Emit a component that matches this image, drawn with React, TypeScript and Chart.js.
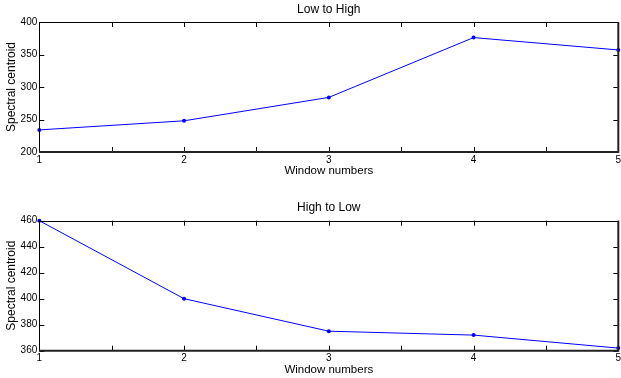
import React, { useEffect, useRef } from "react";
import { Chart, registerables } from "chart.js";

Chart.register(...registerables);

const windows = [1, 2, 3, 4, 5];
const lowToHigh = [234, 248, 284, 376, 357];
const highToLow = [460, 400, 375, 372, 362];
const xTickLabels = ["1", "2", "3", "4", "5"];
const topYTicks = [200, 250, 300, 350, 400];
const bottomYTicks = [360, 380, 400, 420, 440, 460];

const FONT = "'Liberation Sans', Arial, Helvetica, sans-serif";

const framePlugin = {
  id: "matlabFrame",
  afterDraw(chart: any) {
    const { ctx, chartArea: a, scales } = chart;
    const xs = scales.x;
    const ys = scales.y;
    const len = 5;
    ctx.save();
    ctx.strokeStyle = "#000";
    ctx.lineWidth = 1;
    ctx.beginPath();
    xs.ticks.forEach((t: any) => {
      const px = Math.round(xs.getPixelForValue(t.value)) + 0.5;
      ctx.moveTo(px, a.bottom);
      ctx.lineTo(px, a.bottom - len);
      ctx.moveTo(px, a.top);
      ctx.lineTo(px, a.top + len);
    });
    ys.ticks.forEach((t: any) => {
      const py = Math.round(ys.getPixelForValue(t.value)) + 0.5;
      ctx.moveTo(a.left, py);
      ctx.lineTo(a.left + len, py);
      ctx.moveTo(a.right, py);
      ctx.lineTo(a.right - len, py);
    });
    ctx.stroke();
    ctx.lineWidth = 1;
    ctx.beginPath();
    ctx.moveTo(Math.round(a.left) + 0.5, a.bottom);
    ctx.lineTo(Math.round(a.left) + 0.5, Math.round(a.top) + 0.5);
    ctx.lineTo(a.right, Math.round(a.top) + 0.5);
    ctx.stroke();
    ctx.lineWidth = 2;
    ctx.strokeStyle = "#222";
    ctx.beginPath();
    ctx.moveTo(a.left, a.bottom);
    ctx.lineTo(a.right, a.bottom);
    ctx.lineTo(a.right, a.top);
    ctx.stroke();
    ctx.restore();
  },
};

type Cfg = {
  title: string;
  values: number[];
  yTicks: number[];
  height: number;
  topH: number;
  bottomH: number;
  titlePadTop: number;
  xTitlePadBottom: number;
};

function Panel({ cfg }: { cfg: Cfg }) {
  const ref = useRef<HTMLCanvasElement>(null);
  useEffect(() => {
    if (!ref.current) return;
    const yMin = cfg.yTicks[0];
    const yMax = cfg.yTicks[cfg.yTicks.length - 1];
    const yStep = cfg.yTicks[1] - cfg.yTicks[0];
    const chart = new Chart(ref.current, {
      type: "line",
      data: {
        datasets: [
          {
            data: windows.map((w, i) => ({ x: w, y: cfg.values[i] })),
            borderColor: "#0000ff",
            backgroundColor: "#0000ff",
            borderWidth: 1,
            pointRadius: 2,
            pointBorderWidth: 0,
            pointHoverRadius: 2,
            tension: 0,
            fill: false,
            clip: 3,
          },
        ],
      },
      options: {
        animation: false,
        responsive: false,
        events: [],
        layout: { padding: { left: 0, right: 2.7, top: 0, bottom: 0 } },
        plugins: { legend: { display: false }, tooltip: { enabled: false }, title: { display: false } },
        scales: {
          x: {
            type: "linear",
            position: "bottom",
            min: 1,
            max: 5,
            grid: { display: false, drawTicks: false },
            border: { display: false },
            ticks: {
              stepSize: 0.5,
              padding: 2,
              color: "#000",
              font: { family: FONT, size: 10 },
              autoSkip: false,
              maxRotation: 0,
              callback: (v: any) => {
                const idx = windows.indexOf(Number(v));
                return idx >= 0 ? xTickLabels[idx] : "";
              },
            },
            title: {
              display: true,
              text: "Window numbers",
              color: "#000",
              font: { family: FONT, size: 11.5 },
              padding: { top: 0, bottom: cfg.xTitlePadBottom },
            },
            afterFit: (s: any) => {
              s.height = cfg.bottomH;
              s.paddingLeft = 0;
              s.paddingRight = 0;
            },
          },
          x2: {
            type: "linear",
            axis: "x",
            position: "top",
            min: 1,
            max: 5,
            grid: { display: false, drawTicks: false },
            border: { display: false },
            ticks: { display: false },
            title: {
              display: true,
              text: cfg.title,
              color: "#000",
              font: { family: FONT, size: 12 },
              padding: { top: cfg.titlePadTop, bottom: 0 },
            },
            afterFit: (s: any) => {
              s.height = cfg.topH;
              s.paddingLeft = 0;
              s.paddingRight = 0;
            },
          },
          y: {
            type: "linear",
            position: "left",
            min: yMin,
            max: yMax,
            grid: { display: false, drawTicks: false },
            border: { display: false },
            ticks: {
              stepSize: yStep,
              padding: 2,
              color: "#000",
              font: { family: FONT, size: 10 },
            },
            title: {
              display: true,
              text: "Spectral centroid",
              color: "#000",
              font: { family: FONT, size: 12 },
              padding: { top: 4, bottom: 0 },
            },
            afterFit: (s: any) => {
              s.width = 39.3;
              s.paddingTop = 0;
              s.paddingBottom = 0;
            },
          },
        },
      },
      plugins: [framePlugin],
    } as any);
    return () => chart.destroy();
  }, [cfg]);
  return <canvas ref={ref} width={621} height={cfg.height} style={{ display: "block" }} />;
}

const topCfg: Cfg = {
  title: "Low to High",
  values: lowToHigh,
  yTicks: topYTicks,
  height: 180,
  topH: 22,
  bottomH: 28,
  titlePadTop: 2.8,
  xTitlePadBottom: 2.6,
};

const bottomCfg: Cfg = {
  title: "High to Low",
  values: highToLow,
  yTicks: bottomYTicks,
  height: 198,
  topH: 40.7,
  bottomH: 27.3,
  titlePadTop: 20.8,
  xTitlePadBottom: 1.1,
};

export default function App() {
  useEffect(() => {
    document.body.style.margin = "0";
    document.body.style.background = "#fff";
  }, []);
  return (
    <div style={{ width: 621, height: 378, background: "#fff", overflow: "hidden" }}>
      <Panel cfg={topCfg} />
      <Panel cfg={bottomCfg} />
    </div>
  );
}
